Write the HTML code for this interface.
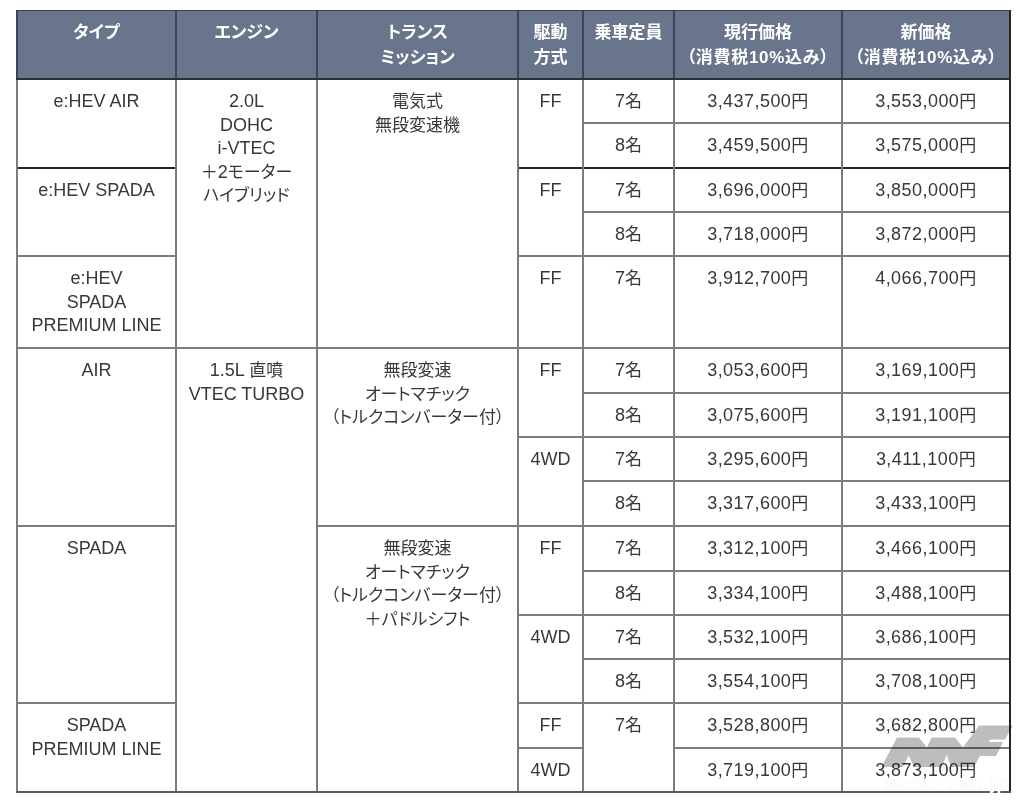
<!DOCTYPE html>
<html lang="ja"><head><meta charset="utf-8"><title>価格表</title>
<style>
html,body{margin:0;padding:0;background:#fff;}
body{width:1024px;height:805px;position:relative;overflow:hidden;
 font-family:"Liberation Sans","Noto Sans CJK JP",sans-serif;color:#383838;}
.l{position:absolute;background:#7c7c7c;}
.d{background:#262626;}
.h{position:absolute;left:16px;top:10px;width:995px;height:70px;background:#69748d;}
.c{position:absolute;text-align:center;font-size:18px;line-height:23.5px;white-space:nowrap;}
.jp{font-feature-settings:"palt";}
.hc{position:absolute;text-align:center;font-size:17px;line-height:25px;color:#fff;font-weight:bold;white-space:nowrap;}
.p{letter-spacing:0.45px;}
.j{font-size:17px;}
.h2{letter-spacing:0.7px;}
</style></head><body>

<div class="h"></div>
<div class="l d" style="left:16px;top:10px;width:995px;height:1px;background:#3c4255"></div>
<div class="l d" style="left:16px;top:78px;width:995px;height:2px;background:#2c2f3a"></div>
<div class="l" style="left:16px;top:10px;width:2px;height:68px;background:#3e4558"></div>
<div class="l" style="left:16px;top:80px;width:2px;height:713px"></div>
<div class="l" style="left:175px;top:10px;width:2px;height:68px;background:#3e4558"></div>
<div class="l" style="left:175px;top:80px;width:2px;height:713px"></div>
<div class="l" style="left:316px;top:10px;width:2px;height:68px;background:#3e4558"></div>
<div class="l" style="left:316px;top:80px;width:2px;height:713px"></div>
<div class="l" style="left:517px;top:10px;width:2px;height:68px;background:#3e4558"></div>
<div class="l" style="left:517px;top:80px;width:2px;height:713px"></div>
<div class="l" style="left:582px;top:10px;width:2px;height:68px;background:#3e4558"></div>
<div class="l" style="left:582px;top:80px;width:2px;height:713px"></div>
<div class="l" style="left:673px;top:10px;width:2px;height:68px;background:#3e4558"></div>
<div class="l" style="left:673px;top:80px;width:2px;height:713px"></div>
<div class="l" style="left:841px;top:10px;width:2px;height:68px;background:#3e4558"></div>
<div class="l" style="left:841px;top:80px;width:2px;height:713px"></div>
<div class="l d" style="left:1009px;top:10px;width:2px;height:783px"></div>
<div class="l" style="left:16px;top:791px;width:995px;height:2px;background:#5a5a5a"></div>
<div class="l" style="left:584px;top:122px;width:89px;height:2px"></div>
<div class="l" style="left:675px;top:122px;width:166px;height:2px"></div>
<div class="l" style="left:843px;top:122px;width:166px;height:2px"></div>
<div class="l d" style="left:18px;top:167px;width:157px;height:2px"></div>
<div class="l d" style="left:519px;top:167px;width:63px;height:2px"></div>
<div class="l d" style="left:584px;top:167px;width:89px;height:2px"></div>
<div class="l d" style="left:675px;top:167px;width:166px;height:2px"></div>
<div class="l d" style="left:843px;top:167px;width:166px;height:2px"></div>
<div class="l" style="left:584px;top:211px;width:89px;height:2px"></div>
<div class="l" style="left:675px;top:211px;width:166px;height:2px"></div>
<div class="l" style="left:843px;top:211px;width:166px;height:2px"></div>
<div class="l" style="left:18px;top:255px;width:157px;height:2px"></div>
<div class="l" style="left:519px;top:255px;width:63px;height:2px"></div>
<div class="l" style="left:584px;top:255px;width:89px;height:2px"></div>
<div class="l" style="left:675px;top:255px;width:166px;height:2px"></div>
<div class="l" style="left:843px;top:255px;width:166px;height:2px"></div>
<div class="l" style="left:18px;top:347px;width:157px;height:2px"></div>
<div class="l" style="left:177px;top:347px;width:139px;height:2px"></div>
<div class="l" style="left:318px;top:347px;width:199px;height:2px"></div>
<div class="l" style="left:519px;top:347px;width:63px;height:2px"></div>
<div class="l" style="left:584px;top:347px;width:89px;height:2px"></div>
<div class="l" style="left:675px;top:347px;width:166px;height:2px"></div>
<div class="l" style="left:843px;top:347px;width:166px;height:2px"></div>
<div class="l" style="left:584px;top:392px;width:89px;height:2px"></div>
<div class="l" style="left:675px;top:392px;width:166px;height:2px"></div>
<div class="l" style="left:843px;top:392px;width:166px;height:2px"></div>
<div class="l" style="left:519px;top:436px;width:63px;height:2px"></div>
<div class="l" style="left:584px;top:436px;width:89px;height:2px"></div>
<div class="l" style="left:675px;top:436px;width:166px;height:2px"></div>
<div class="l" style="left:843px;top:436px;width:166px;height:2px"></div>
<div class="l" style="left:584px;top:480px;width:89px;height:2px"></div>
<div class="l" style="left:675px;top:480px;width:166px;height:2px"></div>
<div class="l" style="left:843px;top:480px;width:166px;height:2px"></div>
<div class="l" style="left:18px;top:525px;width:157px;height:2px"></div>
<div class="l" style="left:318px;top:525px;width:199px;height:2px"></div>
<div class="l" style="left:519px;top:525px;width:63px;height:2px"></div>
<div class="l" style="left:584px;top:525px;width:89px;height:2px"></div>
<div class="l" style="left:675px;top:525px;width:166px;height:2px"></div>
<div class="l" style="left:843px;top:525px;width:166px;height:2px"></div>
<div class="l" style="left:584px;top:570px;width:89px;height:2px"></div>
<div class="l" style="left:675px;top:570px;width:166px;height:2px"></div>
<div class="l" style="left:843px;top:570px;width:166px;height:2px"></div>
<div class="l" style="left:519px;top:614px;width:63px;height:2px"></div>
<div class="l" style="left:584px;top:614px;width:89px;height:2px"></div>
<div class="l" style="left:675px;top:614px;width:166px;height:2px"></div>
<div class="l" style="left:843px;top:614px;width:166px;height:2px"></div>
<div class="l" style="left:584px;top:658px;width:89px;height:2px"></div>
<div class="l" style="left:675px;top:658px;width:166px;height:2px"></div>
<div class="l" style="left:843px;top:658px;width:166px;height:2px"></div>
<div class="l" style="left:18px;top:702px;width:157px;height:2px"></div>
<div class="l" style="left:519px;top:702px;width:63px;height:2px"></div>
<div class="l" style="left:584px;top:702px;width:89px;height:2px"></div>
<div class="l" style="left:675px;top:702px;width:166px;height:2px"></div>
<div class="l" style="left:843px;top:702px;width:166px;height:2px"></div>
<div class="l" style="left:519px;top:747px;width:63px;height:2px"></div>
<div class="l" style="left:675px;top:747px;width:166px;height:2px"></div>
<div class="l" style="left:843px;top:747px;width:166px;height:2px"></div>
<div class="c jp" style="left:18px;width:157px;top:90px">e:HEV AIR</div>
<div class="c jp" style="left:18px;width:157px;top:179px">e:HEV SPADA</div>
<div class="c jp" style="left:18px;width:157px;top:267px">e:HEV<br>SPADA<br>PREMIUM LINE</div>
<div class="c jp" style="left:18px;width:157px;top:359px">AIR</div>
<div class="c jp" style="left:18px;width:157px;top:537px">SPADA</div>
<div class="c jp" style="left:18px;width:157px;top:714px">SPADA<br>PREMIUM LINE</div>
<div class="c jp" style="left:177px;width:139px;top:90px">2.0L<br>DOHC<br>i-VTEC<br><span class="j">＋</span>2<span class="j">モーター</span><br><span class="j">ハイブリッド</span></div>
<div class="c jp" style="left:177px;width:139px;top:359px">1.5L <span class="j">直噴</span><br>VTEC TURBO</div>
<div class="c jp" style="left:318px;width:199px;top:90px"><span class="j">電気式</span><br><span class="j">無段変速機</span></div>
<div class="c jp" style="left:318px;width:199px;top:359px"><span class="j">無段変速</span><br><span class="j">オートマチック</span><br><span class="j">（トルクコンバーター付）</span></div>
<div class="c jp" style="left:318px;width:199px;top:537px"><span class="j">無段変速</span><br><span class="j">オートマチック</span><br><span class="j">（トルクコンバーター付）</span><br><span class="j">＋パドルシフト</span></div>
<div class="c jp" style="left:519px;width:63px;top:90px">FF</div>
<div class="c jp" style="left:519px;width:63px;top:179px">FF</div>
<div class="c jp" style="left:519px;width:63px;top:267px">FF</div>
<div class="c jp" style="left:519px;width:63px;top:359px">FF</div>
<div class="c jp" style="left:519px;width:63px;top:448px">4WD</div>
<div class="c jp" style="left:519px;width:63px;top:537px">FF</div>
<div class="c jp" style="left:519px;width:63px;top:626px">4WD</div>
<div class="c jp" style="left:519px;width:63px;top:714px">FF</div>
<div class="c jp" style="left:519px;width:63px;top:759px">4WD</div>
<div class="c jp" style="left:584px;width:89px;top:90px">7<span class="j">名</span></div>
<div class="c jp" style="left:584px;width:89px;top:134px">8<span class="j">名</span></div>
<div class="c jp" style="left:584px;width:89px;top:179px">7<span class="j">名</span></div>
<div class="c jp" style="left:584px;width:89px;top:223px">8<span class="j">名</span></div>
<div class="c jp" style="left:584px;width:89px;top:267px">7<span class="j">名</span></div>
<div class="c jp" style="left:584px;width:89px;top:359px">7<span class="j">名</span></div>
<div class="c jp" style="left:584px;width:89px;top:404px">8<span class="j">名</span></div>
<div class="c jp" style="left:584px;width:89px;top:448px">7<span class="j">名</span></div>
<div class="c jp" style="left:584px;width:89px;top:492px">8<span class="j">名</span></div>
<div class="c jp" style="left:584px;width:89px;top:537px">7<span class="j">名</span></div>
<div class="c jp" style="left:584px;width:89px;top:582px">8<span class="j">名</span></div>
<div class="c jp" style="left:584px;width:89px;top:626px">7<span class="j">名</span></div>
<div class="c jp" style="left:584px;width:89px;top:670px">8<span class="j">名</span></div>
<div class="c jp" style="left:584px;width:89px;top:714px">7<span class="j">名</span></div>
<div class="c jp p" style="left:675px;width:166px;top:90px">3,437,500<span class="j">円</span></div>
<div class="c jp p" style="left:843px;width:166px;top:90px">3,553,000<span class="j">円</span></div>
<div class="c jp p" style="left:675px;width:166px;top:134px">3,459,500<span class="j">円</span></div>
<div class="c jp p" style="left:843px;width:166px;top:134px">3,575,000<span class="j">円</span></div>
<div class="c jp p" style="left:675px;width:166px;top:179px">3,696,000<span class="j">円</span></div>
<div class="c jp p" style="left:843px;width:166px;top:179px">3,850,000<span class="j">円</span></div>
<div class="c jp p" style="left:675px;width:166px;top:223px">3,718,000<span class="j">円</span></div>
<div class="c jp p" style="left:843px;width:166px;top:223px">3,872,000<span class="j">円</span></div>
<div class="c jp p" style="left:675px;width:166px;top:267px">3,912,700<span class="j">円</span></div>
<div class="c jp p" style="left:843px;width:166px;top:267px">4,066,700<span class="j">円</span></div>
<div class="c jp p" style="left:675px;width:166px;top:359px">3,053,600<span class="j">円</span></div>
<div class="c jp p" style="left:843px;width:166px;top:359px">3,169,100<span class="j">円</span></div>
<div class="c jp p" style="left:675px;width:166px;top:404px">3,075,600<span class="j">円</span></div>
<div class="c jp p" style="left:843px;width:166px;top:404px">3,191,100<span class="j">円</span></div>
<div class="c jp p" style="left:675px;width:166px;top:448px">3,295,600<span class="j">円</span></div>
<div class="c jp p" style="left:843px;width:166px;top:448px">3,411,100<span class="j">円</span></div>
<div class="c jp p" style="left:675px;width:166px;top:492px">3,317,600<span class="j">円</span></div>
<div class="c jp p" style="left:843px;width:166px;top:492px">3,433,100<span class="j">円</span></div>
<div class="c jp p" style="left:675px;width:166px;top:537px">3,312,100<span class="j">円</span></div>
<div class="c jp p" style="left:843px;width:166px;top:537px">3,466,100<span class="j">円</span></div>
<div class="c jp p" style="left:675px;width:166px;top:582px">3,334,100<span class="j">円</span></div>
<div class="c jp p" style="left:843px;width:166px;top:582px">3,488,100<span class="j">円</span></div>
<div class="c jp p" style="left:675px;width:166px;top:626px">3,532,100<span class="j">円</span></div>
<div class="c jp p" style="left:843px;width:166px;top:626px">3,686,100<span class="j">円</span></div>
<div class="c jp p" style="left:675px;width:166px;top:670px">3,554,100<span class="j">円</span></div>
<div class="c jp p" style="left:843px;width:166px;top:670px">3,708,100<span class="j">円</span></div>
<div class="c jp p" style="left:675px;width:166px;top:714px">3,528,800<span class="j">円</span></div>
<div class="c jp p" style="left:843px;width:166px;top:714px">3,682,800<span class="j">円</span></div>
<div class="c jp p" style="left:675px;width:166px;top:759px">3,719,100<span class="j">円</span></div>
<div class="c jp p" style="left:843px;width:166px;top:759px">3,873,100<span class="j">円</span></div>
<div class="hc jp" style="left:18px;width:157px;top:20px">タイプ</div>
<div class="hc jp" style="left:177px;width:139px;top:20px">エンジン</div>
<div class="hc jp" style="left:318px;width:199px;top:20px">トランス<br>ミッション</div>
<div class="hc jp" style="left:519px;width:63px;top:20px">駆動<br>方式</div>
<div class="hc jp" style="left:584px;width:89px;top:20px">乗車定員</div>
<div class="hc jp" style="left:675px;width:166px;top:20px">現行価格<br><span class="h2">（消費税10%込み）</span></div>
<div class="hc jp" style="left:843px;width:166px;top:20px">新価格<br><span class="h2">（消費税10%込み）</span></div>
<svg style="position:absolute;left:0;top:0;mix-blend-mode:multiply" width="1024" height="805" viewBox="0 0 1024 805">
<polygon fill="#bdbdbd" points="881.5,767 897,737.5 919,737.5 927,747.5 931.5,737.5 955,737.5 963,747.5 979,725.5 1013,725.5 1005,739.5 990,739.5 989,742 1003,742 996,756 980,756 974,767 951,767 946.6,754.5 942,767 914,767 908.7,755.3 903,767"/>
</svg>
<div style="position:absolute;left:883px;top:772px;font:bold 19px 'Liberation Sans',sans-serif;color:#fff;text-shadow:0 0 1px rgba(0,0,0,0.15);letter-spacing:0.9px;white-space:nowrap">Motor-Fan.jp</div>
</body></html>
